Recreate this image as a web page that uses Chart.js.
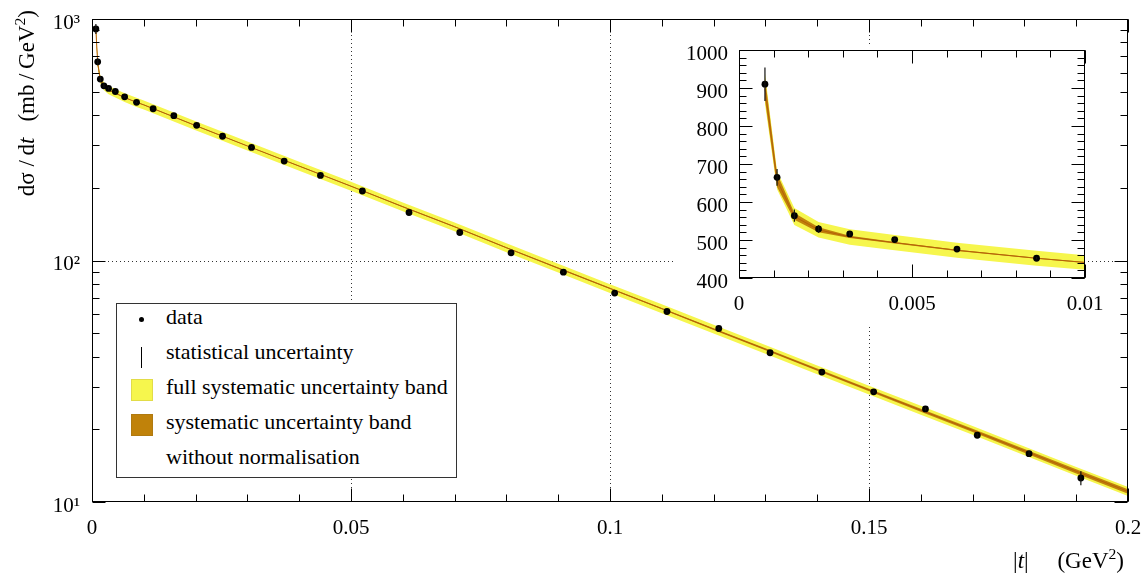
<!DOCTYPE html>
<html>
<head>
<meta charset="utf-8">
<script src="https://cdn.jsdelivr.net/npm/chart.js@4.4.1/dist/chart.umd.min.js"></script>
<style>
  html, body { margin: 0; padding: 0; background: #fff; }
  #wrap { position: relative; width: 1146px; height: 576px; overflow: hidden;
          font-family: 'Liberation Serif', 'Times New Roman', serif; color: #000; }
  #mainChart { position: absolute; left: 0; top: 0; }
  #insetChart { position: absolute; left: 660px; top: 30px; }
  .legend { position: absolute; left: 116px; top: 303px; width: 339px; height: 173px;
            border: 1px solid #333; background: #fff; }
  .legend .txt { position: absolute; left: 49px; font-size: 22px; line-height: 24px; white-space: nowrap; }
  .legend .dot { position: absolute; left: 22px; top: 13px; width: 5px; height: 5px; border-radius: 50%; background: #000; }
  .legend .bar { position: absolute; left: 24px; top: 43px; width: 1px; height: 21px; background: #000; }
  .legend .sw { position: absolute; left: 14px; width: 20px; height: 20px; }
  #ytitle { position: absolute; left: -73px; top: 97px; width: 200px; height: 26px; line-height: 26px;
            font-size: 23px; text-align: right; white-space: nowrap; transform: rotate(-90deg); }
  #xtitle { position: absolute; right: 22px; top: 549px; font-size: 23px; line-height: 24px; white-space: nowrap; }
  sup { font-size: 0.68em; vertical-align: super; line-height: 0; }
</style>
</head>
<body>
<div id="wrap">
  <canvas id="mainChart" width="1146" height="576"></canvas>
  <canvas id="insetChart" width="465" height="300"></canvas>

  <div class="legend">
    <div class="dot"></div>
    <div class="txt" style="top:1px">data</div>
    <div class="bar"></div>
    <div class="txt" style="top:36px">statistical uncertainty</div>
    <div class="sw" style="top:75px; background:#f6f64d; border:1px solid #e2dc48;"></div>
    <div class="txt" style="top:71px">full systematic uncertainty band</div>
    <div class="sw" style="top:110px; background:#c0820a; border:1px solid #b07a10;"></div>
    <div class="txt" style="top:106px">systematic uncertainty band</div>
    <div class="txt" style="top:141px">without normalisation</div>
  </div>

  <div id="ytitle">dσ&nbsp;/&thinsp;d<i>t</i>&nbsp;&nbsp;&thinsp;(mb&thinsp;/&thinsp;GeV<sup>2</sup>)</div>
  <div id="xtitle">|<i>t</i>|&nbsp;&nbsp;&nbsp;&nbsp;&nbsp;(GeV<sup>2</sup>)</div>
</div>

<script>
// measured points: |t| (GeV^2), dsigma/dt (mb/GeV^2), statistical error
const dataT = [0.00075, 0.0011, 0.0016, 0.0023, 0.0032, 0.0045, 0.0063, 0.0086,
  0.0118, 0.0158, 0.0202, 0.0252, 0.0308, 0.0371, 0.0441, 0.0522, 0.0612, 0.0710,
  0.0809, 0.0910, 0.1009, 0.1110, 0.1210, 0.1309, 0.1409, 0.1509, 0.1609, 0.1709,
  0.1809, 0.1909];
const dataV = [910, 665, 564, 529, 516, 501, 476, 452,
  425, 398, 363, 327, 294, 258, 225, 194, 158, 130.6,
  107.6, 89.5, 73.3, 61.5, 52.3, 41.5, 34.5, 28.6, 24.3, 18.9,
  15.85, 12.57];
const dataErr = [44, 22, 16, 10, 6, 4, 3, 3,
  2, 2, 2, 2, 2, 1.5, 1.5, 1.5, 1.2, 1,
  1, 0.8, 0.8, 0.6, 0.6, 0.5, 0.4, 0.35, 0.35, 0.3,
  0.45, 0.85];

// fitted curve and its bands (half widths in percent)
const curveT = [0.00075, 0.0011, 0.0016, 0.0023, 0.0032, 0.0045, 0.0063, 0.0086, 0.01,
  0.02, 0.03, 0.04, 0.05, 0.06, 0.07, 0.08, 0.09, 0.10,
  0.11, 0.12, 0.13, 0.14, 0.15, 0.16, 0.17, 0.18, 0.19, 0.20];
const curveV = [899, 657, 562, 527, 508, 493, 473, 452, 441,
  362, 298, 246, 203, 167, 138, 113, 93, 76.6,
  63.2, 52.0, 42.9, 35.3, 29.1, 24.0, 19.8, 16.3, 13.4, 11.06];
const fullPct = [4.5, 3.6, 4.0, 3.9, 4.0, 4.1, 4.2, 4.3, 4.3,
  4.3, 4.3, 4.3, 4.3, 4.2, 4.2, 4.2, 4.2, 4.2,
  4.2, 4.2, 4.2, 4.2, 4.2, 4.2, 4.2, 4.2, 4.2, 4.2];
const sysPct = [3.2, 2.7, 1.6, 1.2, 0.6, 0.4, 0.35, 0.3, 0.3,
  0.3, 0.3, 0.3, 0.35, 0.4, 0.45, 0.5, 0.55, 0.6,
  0.7, 0.8, 0.95, 1.1, 1.25, 1.4, 1.6, 1.8, 2.0, 2.2];

// axis ticks
const xTicks = [0, 0.05, 0.1, 0.15, 0.2];
const xTickLabels = ['0', '0.05', '0.1', '0.15', '0.2'];
const yTicks = [10, 100, 1000];
const yTickLabels = ['10¹', '10²', '10³'];
const insetXTicks = [0, 0.005, 0.01];
const insetXTickLabels = ['0', '0.005', '0.01'];
const insetYTicks = [400, 500, 600, 700, 800, 900, 1000];

const YELLOW = '#f6f64d';
const BROWN = '#c0820a';
const LINE = '#b5600a';

Chart.defaults.font.family = "'Liberation Serif', 'Times New Roman', serif";
Chart.defaults.color = '#000';

function steps(from, to, step) {
  const out = [];
  for (let v = from; v <= to + step / 1000; v += step) out.push(+v.toFixed(6));
  return out;
}
const logMinors = [];
[10, 100].forEach(d => { for (let k = 2; k <= 9; k++) logMinors.push(d * k); });

function makeDatasets(pointFilter) {
  const pts = dataT.map((t, i) => ({ x: t, y: dataV[i], err: dataErr[i] })).filter(pointFilter);
  const mid = curveT.map((t, i) => ({ x: t, y: curveV[i] }));
  const band = (pct, sign) => curveT.map((t, i) => ({ x: t, y: curveV[i] * (1 + sign * pct[i] / 100) }));
  const area = { borderWidth: 0, borderColor: 'transparent', pointRadius: 0 };
  return [
    { label: 'data', data: pts, showLine: false, pointRadius: 3.4, pointBorderWidth: 0,
      pointBackgroundColor: '#000', order: 0 },
    { label: 'fit', data: mid, borderColor: LINE, borderWidth: 1, pointRadius: 0, order: 1 },
    Object.assign({ label: 'sysHi', data: band(sysPct, 1), fill: '+1', backgroundColor: BROWN, order: 2 }, area),
    Object.assign({ label: 'sysLo', data: band(sysPct, -1), fill: false, order: 2 }, area),
    Object.assign({ label: 'fullHi', data: band(fullPct, 1), fill: '+1', backgroundColor: YELLOW, order: 3 }, area),
    Object.assign({ label: 'fullLo', data: band(fullPct, -1), fill: false, order: 3 }, area)
  ];
}

// dotted grid (kept out of the inset box), error bars, frame and inward ticks
const framePlugin = {
  id: 'frame',
  beforeDatasetsDraw(chart, args, opts) {
    const { ctx, chartArea: a, scales: { x, y } } = chart;
    ctx.save();
    if (opts.hole) {
      const h = opts.hole;
      ctx.beginPath();
      ctx.rect(0, 0, chart.width, chart.height);
      ctx.rect(h.x0, h.y0, h.x1 - h.x0, h.y1 - h.y0);
      ctx.clip('evenodd');
    }
    ctx.strokeStyle = '#333';
    ctx.lineWidth = 1;
    ctx.setLineDash([1, 3]);
    (opts.gridX || []).forEach(v => {
      const px = Math.round(x.getPixelForValue(v)) + 0.5;
      ctx.beginPath(); ctx.moveTo(px, a.top); ctx.lineTo(px, a.bottom); ctx.stroke();
    });
    (opts.gridY || []).forEach(v => {
      const py = Math.round(y.getPixelForValue(v)) + 0.5;
      ctx.beginPath(); ctx.moveTo(a.left, py); ctx.lineTo(a.right, py); ctx.stroke();
    });
    ctx.restore();
  },
  afterDatasetsDraw(chart, args, opts) {
    const { ctx, chartArea: a, scales: { x, y } } = chart;
    ctx.save();
    ctx.beginPath();
    ctx.rect(a.left, a.top, a.right - a.left, a.bottom - a.top);
    ctx.clip();
    ctx.strokeStyle = '#111';
    ctx.lineWidth = 1.2;
    chart.data.datasets[0].data.forEach(d => {
      const px = x.getPixelForValue(d.x);
      ctx.beginPath();
      ctx.moveTo(px, y.getPixelForValue(d.y - d.err));
      ctx.lineTo(px, y.getPixelForValue(d.y + d.err));
      ctx.stroke();
    });
    ctx.restore();

    ctx.save();
    ctx.strokeStyle = '#000';
    ctx.lineWidth = 1;
    const L = Math.round(a.left) + 0.5, R = Math.round(a.right) - 0.5;
    const T = Math.round(a.top) + 0.5, B = Math.round(a.bottom) - 0.5;
    ctx.strokeRect(L, T, R - L, B - T);
    const tickX = (vals, len) => vals.forEach(v => {
      const px = Math.round(x.getPixelForValue(v)) + 0.5;
      ctx.beginPath();
      ctx.moveTo(px, B); ctx.lineTo(px, B - len);
      ctx.moveTo(px, T); ctx.lineTo(px, T + len);
      ctx.stroke();
    });
    const tickY = (vals, len) => vals.forEach(v => {
      const py = Math.round(y.getPixelForValue(v)) + 0.5;
      ctx.beginPath();
      ctx.moveTo(L, py); ctx.lineTo(L + len, py);
      ctx.moveTo(R, py); ctx.lineTo(R - len, py);
      ctx.stroke();
    });
    tickX(opts.xMajor, 13); tickX(opts.xMinor, 7);
    tickY(opts.yMajor, 13); tickY(opts.yMinor, 7);
    ctx.restore();
  }
};

function fixedTicks(values) {
  return scale => { scale.ticks = values.map(v => ({ value: v })); };
}
// fixed axis size, and no extra room for labels that stick out
function fixSize(prop, size) {
  return s => {
    s[prop] = size;
    s.paddingLeft = s.paddingRight = s.paddingTop = s.paddingBottom = 0;
  };
}

new Chart(document.getElementById('mainChart').getContext('2d'), {
  type: 'line',
  data: { datasets: makeDatasets(() => true) },
  plugins: [framePlugin],
  options: {
    responsive: false,
    animation: false,
    devicePixelRatio: 1,
    events: [],
    layout: { padding: { top: 19, right: 18, left: 0, bottom: 0 } },
    plugins: {
      legend: { display: false },
      tooltip: { enabled: false },
      frame: {
        gridX: [0.05, 0.1, 0.15], gridY: [100],
        hole: { x0: 673, y0: 47, x1: 1088, y1: 325 },
        xMajor: xTicks, xMinor: steps(0, 0.2, 0.01),
        yMajor: yTicks, yMinor: logMinors
      }
    },
    scales: {
      x: {
        type: 'linear', min: 0, max: 0.2,
        grid: { display: false, drawTicks: false }, border: { display: false },
        afterBuildTicks: fixedTicks(xTicks),
        afterFit: fixSize('height', 74),
        ticks: { autoSkip: false, maxRotation: 0, padding: 14, font: { size: 21 },
                 callback: v => xTickLabels[xTicks.indexOf(v)] }
      },
      y: {
        type: 'logarithmic', min: 10, max: 1000,
        grid: { display: false, drawTicks: false }, border: { display: false },
        afterBuildTicks: fixedTicks(yTicks),
        afterFit: fixSize('width', 92),
        ticks: { autoSkip: false, padding: 12, labelOffset: 4, font: { size: 21 },
                 callback: v => yTickLabels[yTicks.indexOf(v)] }
      }
    }
  }
});

new Chart(document.getElementById('insetChart').getContext('2d'), {
  type: 'line',
  data: { datasets: makeDatasets(p => p.x <= 0.01) },
  plugins: [framePlugin],
  options: {
    responsive: false,
    animation: false,
    devicePixelRatio: 1,
    events: [],
    layout: { padding: { top: 20, right: 40, left: 0, bottom: 0 } },
    plugins: {
      legend: { display: false },
      tooltip: { enabled: false },
      frame: {
        xMajor: insetXTicks, xMinor: steps(0, 0.01, 0.001),
        yMajor: insetYTicks, yMinor: steps(400, 1000, 20)
      }
    },
    scales: {
      x: {
        type: 'linear', min: 0, max: 0.01,
        grid: { display: false, drawTicks: false }, border: { display: false },
        afterBuildTicks: fixedTicks(insetXTicks),
        afterFit: fixSize('height', 52),
        ticks: { autoSkip: false, maxRotation: 0, padding: 14, font: { size: 21 },
                 callback: v => insetXTickLabels[insetXTicks.indexOf(v)] }
      },
      y: {
        type: 'linear', min: 400, max: 1000,
        grid: { display: false, drawTicks: false }, border: { display: false },
        afterBuildTicks: fixedTicks(insetYTicks),
        afterFit: fixSize('width', 79),
        ticks: { autoSkip: false, padding: 11, labelOffset: 4, font: { size: 21 },
                 callback: v => String(v) }
      }
    }
  }
});
</script>
</body>
</html>
